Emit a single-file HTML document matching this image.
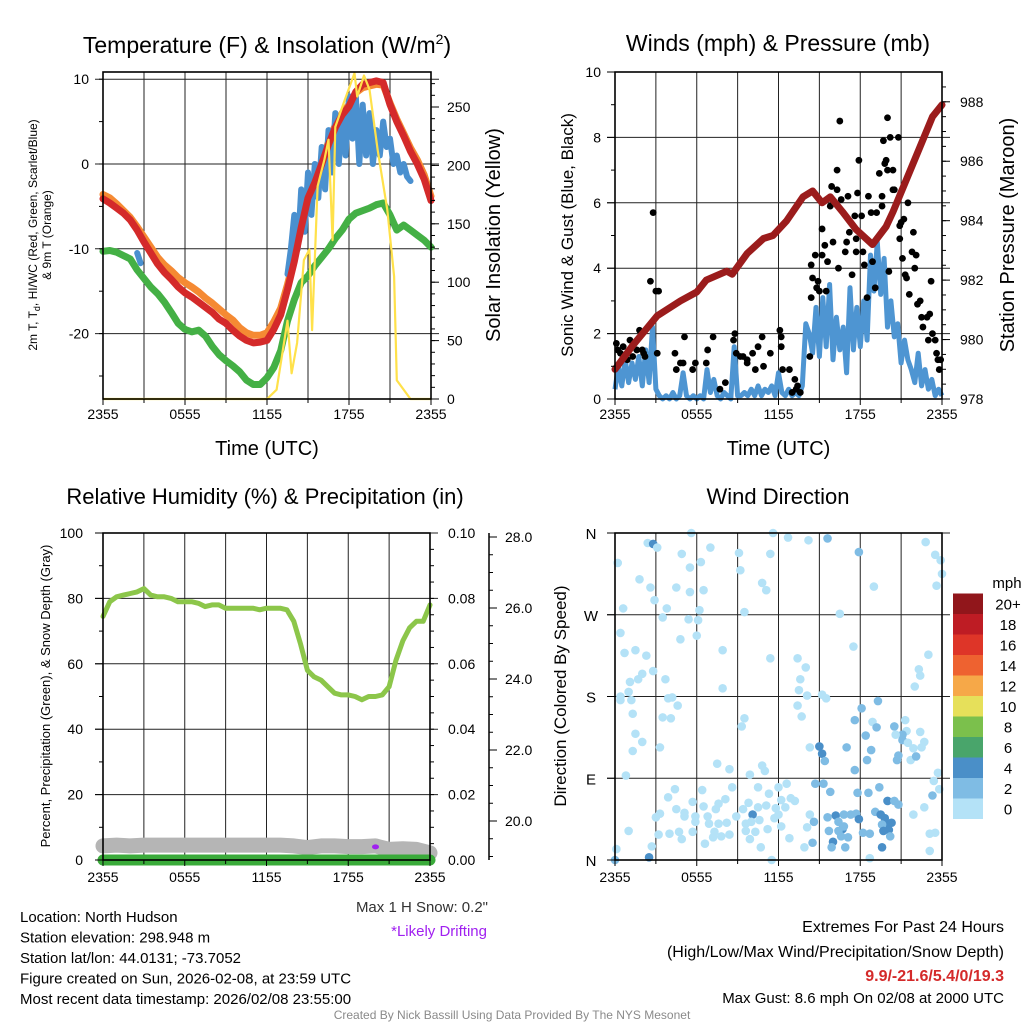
<!DOCTYPE html>
<html><head><meta charset="utf-8"><style>
html,body{margin:0;padding:0;background:#fff;}
svg{display:block;font-family:"Liberation Sans",sans-serif;}
</style></head><body>
<svg id="c" width="1024" height="1024" viewBox="0 0 1024 1024"></svg>
<script>
// ---------- DATA ----------
const halfHours = Array.from({length:49},(_,i)=>i*0.5);
const tempRed = [-4.1,-4.6,-5.2,-5.8,-6.6,-7.8,-9.2,-10.5,-11.8,-12.8,-13.6,-14.5,-15.2,-15.7,-16.3,-16.9,-17.5,-18.3,-18.8,-19.6,-20.3,-20.8,-21.1,-21.0,-20.8,-19.5,-17.8,-14.8,-11.5,-7.5,-4.0,-2.2,0.0,2.3,4.3,5.8,6.8,8.5,9.4,9.6,9.8,9.6,7.0,5.0,3.3,1.5,0.0,-1.8,-4.3];
const temp9m = [-3.6,-4.0,-4.7,-5.5,-6.3,-7.4,-8.6,-9.8,-11.0,-11.9,-12.6,-13.4,-14.0,-14.5,-15.1,-15.8,-16.4,-17.1,-17.8,-18.4,-19.3,-19.9,-20.2,-20.2,-19.9,-18.6,-17.0,-14.2,-11.1,-7.2,-3.8,-1.9,0.3,2.6,4.6,6.0,7.0,8.4,9.0,9.2,9.4,9.3,7.2,5.3,3.6,1.9,0.5,-1.3,-3.8];
const dewGreen = [-10.3,-10.2,-10.4,-10.8,-11.2,-12.5,-13.5,-14.5,-15.3,-16.3,-17.5,-18.8,-19.5,-19.8,-19.6,-20.3,-21.5,-22.5,-23.2,-23.8,-24.5,-25.5,-26.0,-26.0,-25.2,-24.0,-22.0,-18.5,-16.0,-14.0,-13.2,-12.0,-11.0,-10.0,-8.8,-7.8,-6.5,-5.8,-5.5,-5.2,-4.8,-4.6,-6.0,-7.8,-7.2,-7.8,-8.4,-9.0,-9.8];
const chillHours = [2.5,2.75,null,13.5,13.75,14,14.25,14.5,14.75,15,15.25,15.5,15.75,16,16.25,16.5,16.75,17,17.25,17.5,17.75,18,18.25,18.5,18.75,19,19.25,19.5,19.75,20,20.25,20.5,20.75,21,21.25,21.5,21.75,22,22.25,22.5];
const chillBlue = [-10.5,-11.7,null,-13,-10,-6,-10,-3,-8,-1,-6,0,-4,2,-3,4,-1,6,0,6,1,8,3,8,0,7,1,6,0,4,1,5,2,3,0,1,-1,0,-1.5,-2];
const solarHours = [0,12,12.7,13.5,13.8,14.2,14.7,15.1,15.3,15.7,16.2,16.5,16.8,17.0,17.6,18.4,18.6,19.1,19.5,20.1,20.8,21.3,21.5,22.5,24];
const solarVals = [0,0,8,67,22,48,119,128,59,182,205,222,136,233,253,279,259,277,265,213,162,105,16,0,0];
const pressHours = [0,1.3,3.1,4.8,6.0,6.7,8.2,8.6,9.7,10.9,11.6,12.6,13.8,14.5,15.2,15.8,16.7,17.7,18.9,19.9,20.4,21.4,22.4,23.3,24];
const pressVals = [979.0,979.8,980.8,981.3,981.6,982.0,982.3,982.2,982.9,983.4,983.5,984.0,984.8,985.0,984.6,984.8,984.3,983.7,983.2,983.8,984.3,985.4,986.5,987.5,987.9];
const sonicWind = [0.3,1.0,0.4,1.2,0.5,1.1,0.6,1.3,0.4,1.5,0.5,2.2,0.3,
 0.1,0,0.1,0,0.2,0,0.1,0.8,0.1,0,0.1,0,0.1,0,0.9,0.2,0.6,0.1,0,0.2,0.1,0,1.6,0.1,0.1,0.2,
 0.1,0.3,0.1,0.4,0.1,0.3,0.2,0.4,0.1,0.8,0.2,0.1,0.3,0.1,0.2,0.1,0.4,2.3,
 2.0,1.4,2.8,1.3,3.1,1.6,3.5,1.2,2.5,1.5,2.2,0.8,3.4,1.5,2.8,1.6,3.0,1.8,4.4,3.3,4.8,3.2,4.3,2.2,3.0,1.9,2.3,1.1,1.8,1.2,0.9,0.5,1.4,0.4,0.9,0.3,0.6,0.1,0.3,0.1];
const gustHours = [0.1,0.2,0.4,0.6,0.9,1.1,1.3,1.6,1.8,2.0,2.1,2.2,2.6,2.8,3.0,3.1,3.2,4.4,4.5,4.8,5.0,5.1,5.7,5.9,6.7,6.8,7.2,7.7,8.1,8.7,8.8,8.9,9.2,9.4,9.7,9.7,10.1,10.3,10.5,10.8,10.9,11.4,12.1,12.2,12.2,12.3,12.8,13.2,13.3,13.4,13.0,13.6,14.3,14.4,14.4,14.5,14.7,14.8,14.9,15.0,15.2,15.2,15.4,15.5,15.6,15.8,15.9,16.0,16.3,16.3,16.4,16.5,16.6,16.9,17.0,17.1,17.2,17.4,17.6,17.7,17.7,17.8,17.9,18.1,18.2,18.3,18.5,18.6,18.8,18.9,19.1,19.2,19.4,19.6,19.6,19.7,19.8,19.9,20.0,20.0,20.1,20.2,20.4,20.4,20.5,20.8,20.9,20.9,21.0,21.1,21.2,21.3,21.4,21.5,21.6,21.8,21.9,22.0,22.1,22.2,22.4,22.5,22.6,22.9,23.1,23.0,23.2,23.3,23.5,23.6,23.7,23.8,23.9];
const gustVals = [1.7,1.5,1.4,1.6,1.2,1.8,1.3,1.5,2.1,1.5,1.4,1.3,3.6,5.7,3.3,1.4,3.3,1.4,0.9,1.1,1.1,1.9,0.9,1.1,1.1,1.5,1.9,0.3,0.5,1.8,2.0,1.4,1.3,1.3,1.2,1.1,1.4,0.9,1.6,1.9,1.0,1.4,2.1,1.9,1.6,0.9,0.9,0.6,0.3,0.4,0.2,0.2,1.3,3.1,4.1,3.7,4.4,3.4,3.6,3.3,4.4,5.2,4.7,3.3,4.2,5.9,6.5,4.8,7.0,6.4,4.0,8.5,6.1,4.5,4.8,6.2,5.1,3.8,5.6,4.9,4.5,6.3,7.3,5.6,4.5,4.1,3.1,6.2,5.7,4.2,3.4,5.7,6.9,6.2,5.9,7.9,7.2,7.3,7.0,8.6,3.9,8.0,6.4,7.0,6.4,8.0,5.3,4.9,5.4,4.3,5.5,3.8,3.7,6.0,3.2,4.5,5.1,4.0,4.4,2.9,3.0,2.5,2.2,2.5,2.6,1.8,3.6,2.0,1.8,1.4,1.2,0.9,1.2];
const rhVals = [74.5,79,80.5,81,81.5,82,83,81,80.5,80.5,80,79,79,79,78.5,77.5,78,78,77,77,77,77,77,76.5,77,77,77,76.5,73,66,58,56,55,53,51,50.5,50.5,50,49,50,50,50.5,53,61,67,71,73,73,78];
const snowHours = Array.from({length:25},(_,i)=>i);
const snowDepth = [19.3,19.32,19.3,19.32,19.32,19.32,19.32,19.32,19.32,19.32,19.32,19.32,19.32,19.32,19.3,19.25,19.3,19.3,19.28,19.28,19.3,19.2,19.22,19.2,19.1];
const precipVals = [0,0,0,0,0,0,0,0,0,0,0,0,0,0,0,0,0,0,0,0,0,0,0,0,0];
const drift = [20.0, 19.3];
const dirHours = [0.2,2.4,2.8,3.1,5.6,11.6,12.7,14.2,15.6,17.9,22.8,23.5,23.9,24,23.6,4.9,6.3,7.0,5.5,9.1,9.2,11.4,10.8,11.1,1.8,2.6,4.5,5.5,6.5,19.0,0.6,2.9,3.8,3.5,5.4,6.2,6.1,9.5,16.5,0.4,6.0,4.8,17.5,0.7,1.5,2.3,7.9,11.4,13.4,14.0,23.0,2.8,2.0,1.7,1.1,3.7,22.3,22.4,22.0,7.9,13.6,13.5,14.1,15.2,15.5,1.0,0.4,0.4,1.2,3.9,4.2,4.6,1.3,3.5,4.1,13.4,13.7,9.5,9.3,19.3,18.1,17.6,18.9,19.2,20.5,21.3,21.4,21.1,20.6,21.1,22.4,22.7,21.5,21.9,22.5,1.5,2.0,1.3,3.3,18.4,15.0,15.2,14.3,17.0,18.8,15.4,18.5,20.8,20.7,21.7,22.1,17.6,7.5,8.4,9.9,10.8,11.0,0.8,23.7,23.4,23.8,23.3,14.7,15.3,15.8,19.4,17.8,18.6,20.0,20.5,20.8,21.9,22.7,4.4,3.9,6.4,8.6,10.5,11.3,12.0,12.6,12.9,13.2,12.2,5.7,6.5,7.4,7.6,8.1,9.4,9.8,10.5,11.1,11.8,12.5,4.5,5.1,5.1,3.3,3.0,5.9,5.9,6.8,6.9,7.6,8.2,8.9,10.1,10.0,9.6,10.6,11.7,12.0,12.2,14.3,14.6,14.1,16.2,15.6,16.4,16.8,17.3,17.7,17.9,16.7,16.6,16.8,15.7,16.4,16.0,15.9,16.9,17.1,18.2,18.7,19.1,19.5,19.8,19.9,20.3,19.6,20.1,19.7,20.2,19.6,1.0,3.2,4.0,4.7,5.7,4.9,6.6,7.3,7.2,7.8,8.4,9.6,10.3,9.9,11.2,12.8,14.5,13.9,10.7,23.1,23.5,23.1,0.1,2.7,2.5,0,11.5,18.7];
const dirDegs = [327,349,348,344,360,360,355,352,354,339,350,336,330,315,302,337,328,344,322,338,319,337,305,297,309,300,300,295,297,301,277,286,277,267,265,275,264,273,271,250,247,243,235,228,231,225,231,222,222,212,226,208,205,199,196,199,210,203,191,189,199,187,181,182,178,185,180,176,176,178,179,170,161,157,156,170,158,156,147,175,167,154,152,146,147,154,142,138,138,132,141,130,129,123,124,139,130,120,124,137,125,117,124,124,121,109,110,115,110,110,114,99,106,100,94,104,98,93,96,87,78,71,84,84,75,80,74,74,65,65,61,50,58,78,69,77,80,80,73,80,84,68,65,66,64,59,56,62,67,56,63,58,60,57,58,56,52,48,51,47,48,42,48,40,40,41,48,50,42,40,44,46,50,37,50,42,36,49,47,42,50,50,51,45,34,26,37,32,32,20,14,14,25,30,29,53,50,46,40,41,39,33,32,26,14,32,28,29,31,31,23,18,31,25,26,28,32,31,23,34,24,19,14,14,29,30,10,12,15,3,0,0,2];
const dirSpeed = [0,0,4,0,0,0,0,0,2,2,0,0,0,0,0,0,0,0,0,0,0,0,0,0,0,0,0,0,0,0,0,0,0,0,0,0,0,0,0,0,0,0,0,0,0,0,0,0,0,0,0,0,0,0,0,0,0,0,0,0,0,0,0,0,0,0,0,0,0,0,0,0,0,0,0,0,0,0,0,2,2,2,0,2,2,0,0,2,0,2,0,0,0,0,0,0,0,0,0,2,4,4,0,2,2,2,2,2,2,0,2,2,0,0,0,0,0,0,0,0,0,2,2,2,2,2,2,2,4,2,2,0,0,0,0,0,0,0,0,0,0,0,0,0,0,0,0,0,0,0,0,0,0,0,0,0,0,0,0,0,0,0,0,0,0,0,0,4,0,0,0,0,0,0,0,2,0,4,2,2,2,2,2,4,4,2,2,2,2,4,2,2,2,2,2,2,4,4,4,4,2,4,4,2,4,0,0,0,0,0,0,0,0,0,0,0,0,0,0,0,0,2,0,0,0,0,0,0,0,4,2,0,0,0];
const timeTicks = ["2355","0555","1155","1755","2355"];

// ---------- HELPERS ----------
const NS="http://www.w3.org/2000/svg";
const svg=document.getElementById('c');
function el(tag,attrs,parent){const e=document.createElementNS(NS,tag);for(const k in attrs)e.setAttribute(k,attrs[k]);(parent||svg).appendChild(e);return e;}
function txt(s,x,y,size,anchor,extra){const t=el('text',Object.assign({x:x,y:y,'font-size':size,'text-anchor':anchor||'middle',fill:'#000'},extra||{}));t.textContent=s;return t;}
function pathFrom(xs,ys){let d='',pen=false;for(let i=0;i<xs.length;i++){if(xs[i]==null||ys[i]==null){pen=false;continue;}d+=(pen?'L':'M')+xs[i].toFixed(1)+' '+ys[i].toFixed(1);pen=true;}return d;}

function makePanel(name,x0,x1,y0,y1){
  const g=el('g',{});
  
  
  return {g,x0,x1,y0,y1,xs:h=>x0+h*(x1-x0)/24};
}
function grid(P,yTicks,yf){
  for(let k=1;k<8;k++){const x=P.xs(k*3);const l=el('line',{x1:x,x2:x,y1:P.y0,y2:P.y1,stroke:'#222','stroke-width':1},P.g);
    }
  yTicks.forEach(v=>{const y=yf(v);const l=el('line',{x1:P.x0-8,x2:P.x1+8,y1:y,y2:y,stroke:'#222','stroke-width':1},P.g);
    });
}
function frame(P){const r=el('rect',{x:P.x0,y:P.y0,width:P.x1-P.x0,height:P.y1-P.y0,fill:'none',stroke:'#000','stroke-width':1.6},P.g);
  }
function timeAxis(P,ty,showTitle){
  timeTicks.forEach((s,i)=>{const x=P.xs(i*6);el('line',{x1:x,x2:x,y1:P.y1,y2:P.y1+6,stroke:'#000'},P.g);
    const t=txt(s,x,ty,14);});
  for(let k=1;k<8;k+=2){const x=P.xs(k*3);el('line',{x1:x,x2:x,y1:P.y1,y2:P.y1+4,stroke:'#000'},P.g);}
  if(showTitle){const t=txt('Time (UTC)',(P.x0+P.x1)/2,ty+36,20);}
}
function rotText(s,x,y,size,name){const t=txt(s,x,y,size,'middle',{transform:`rotate(-90 ${x} ${y})`});return t;}

// ---------- PANEL 1: Temperature ----------
(function(){
  const P=makePanel('temperature-panel',103,431,72,399);
  const yT=v=>164-v*8.48, yS=v=>399-v*1.168;
  grid(P,[10,0,-10,-20],yT);
  const xs=halfHours.map(P.xs);
  let p=el('path',{d:pathFrom(xs,temp9m.map(yT)),fill:'none',stroke:'#f58a33','stroke-width':7,'stroke-linejoin':'round','stroke-linecap':'round'},P.g);
  
  p=el('path',{d:pathFrom(xs,dewGreen.map(yT)),fill:'none',stroke:'#44b045','stroke-width':7,'stroke-linejoin':'round','stroke-linecap':'round'},P.g);
  
  p=el('path',{d:pathFrom(chillHours.map(h=>h==null?null:P.xs(h)),chillBlue.map(v=>v==null?null:yT(v))),fill:'none',stroke:'#4a90cf','stroke-width':6,'stroke-linejoin':'round','stroke-linecap':'round'},P.g);
  
  p=el('path',{d:pathFrom(xs,tempRed.map(yT)),fill:'none',stroke:'#d42a2a','stroke-width':7,'stroke-linejoin':'round','stroke-linecap':'round'},P.g);
  
  p=el('path',{d:pathFrom(solarHours.map(P.xs),solarVals.map(yS)),fill:'none',stroke:'#ffe14a','stroke-width':2.2,'stroke-linejoin':'round'},P.g);
  
  frame(P);
  [10,0,-10,-20].forEach(v=>{const t=txt(String(v),P.x0-14,yT(v)+5,14,'end');});
  for(let v=-25;v<=10;v+=5){el('line',{x1:P.x0-4,x2:P.x0,y1:yT(v),y2:yT(v),stroke:'#000'},P.g);}
  [0,50,100,150,200,250].forEach(v=>{el('line',{x1:P.x1,x2:P.x1+8,y1:yS(v),y2:yS(v),stroke:'#000'},P.g);
    const t=txt(String(v),P.x1+16,yS(v)+5,14,'start');});
  for(let v=10;v<280;v+=10){el('line',{x1:P.x1,x2:P.x1+4,y1:yS(v),y2:yS(v),stroke:'#000'},P.g);}
  timeAxis(P,419,true);
  const title=el('text',{x:267,y:53,'font-size':23,'text-anchor':'middle'});
  title.innerHTML='Temperature (F) &amp; Insolation (W/m<tspan dy="-9" font-size="14">2</tspan><tspan dy="9">)</tspan>';
  
  const a=el('text',{x:37,y:235,'font-size':12,'text-anchor':'middle',transform:'rotate(-90 37 235)'});
  a.innerHTML='2m T, T<tspan dy="3" font-size="9">d</tspan><tspan dy="-3">, HI/WC (Red, Green, Scarlet/Blue)</tspan>';
  
  rotText('& 9m T (Orange)',51,235,12,'temperature-y-axis-title-line2');
  rotText('Solar Insolation (Yellow)',500,235,20,'solar-y-axis-title');
})();

// ---------- PANEL 2: Winds ----------
(function(){
  const P=makePanel('winds-panel',615,942,72,399);
  const yW=v=>399-v*32.7, yP=v=>399-(v-978)*29.72;
  grid(P,[2,4,6,8],yW);
  const qh=sonicWind.map((_,i)=>P.xs(i*0.25));
  let p=el('path',{d:pathFrom(qh,sonicWind.map(yW)),fill:'none',stroke:'#4e95d2','stroke-width':5,'stroke-linejoin':'round'},P.g);
  
  gustHours.forEach((h,i)=>{const c=el('circle',{cx:P.xs(h),cy:yW(gustVals[i]),r:3.4,fill:'#000'},P.g);
    });
  p=el('path',{d:pathFrom(pressHours.map(P.xs),pressVals.map(yP)),fill:'none',stroke:'#9b1c1c','stroke-width':7,'stroke-linejoin':'round','stroke-linecap':'round'},P.g);
  
  frame(P);
  [0,2,4,6,8,10].forEach(v=>{el('line',{x1:P.x0-8,x2:P.x0,y1:yW(v),y2:yW(v),stroke:'#000'},P.g);
    const t=txt(String(v),P.x0-14,yW(v)+5,14,'end');});
  for(let v=1;v<10;v+=2)el('line',{x1:P.x0-4,x2:P.x0,y1:yW(v),y2:yW(v),stroke:'#000'},P.g);
  [978,980,982,984,986,988].forEach(v=>{el('line',{x1:P.x1,x2:P.x1+8,y1:yP(v),y2:yP(v),stroke:'#000'},P.g);
    const t=txt(String(v),P.x1+18,yP(v)+5,14,'start');});
  for(let v=978.5;v<989;v+=0.5)el('line',{x1:P.x1,x2:P.x1+4,y1:yP(v),y2:yP(v),stroke:'#000'},P.g);
  timeAxis(P,419,true);
  let t=txt('Winds (mph) & Pressure (mb)',778,51,23);
  rotText('Sonic Wind & Gust (Blue, Black)',573,235,17,'winds-y-axis-title');
  rotText('Station Pressure (Maroon)',1014,235,20,'pressure-y-axis-title');
})();

// ---------- PANEL 3: RH ----------
(function(){
  const P=makePanel('humidity-panel',103,430,533,860);
  const yR=v=>860-v*3.27, yD=v=>821-(v-20)*35.5;
  grid(P,[20,40,60,80,100],yR);
  let p=el('path',{d:pathFrom(snowHours.map(P.xs),snowDepth.map(yD)),fill:'none',stroke:'#b5b5b5','stroke-width':15,'stroke-linejoin':'round','stroke-linecap':'round'},P.g);
  
  p=el('path',{d:pathFrom(snowHours.map(P.xs),precipVals.map(v=>860-v*3270)),fill:'none',stroke:'#3aab3a','stroke-width':11,'stroke-linecap':'round'},P.g);
  
  const d=el('ellipse',{cx:P.xs(drift[0]),cy:yD(drift[1])+1,rx:3.5,ry:2.5,fill:'#a020f0'},P.g);
  
  p=el('path',{d:pathFrom(halfHours.map(P.xs),rhVals.map(yR)),fill:'none',stroke:'#8cc64a','stroke-width':5,'stroke-linejoin':'round','stroke-linecap':'round'},P.g);
  
  frame(P);
  [0,20,40,60,80,100].forEach(v=>{el('line',{x1:P.x0-8,x2:P.x0,y1:yR(v),y2:yR(v),stroke:'#000'},P.g);
    const t=txt(String(v),P.x0-20,yR(v)+5,14,'end');
    const t2=txt((v/1000).toFixed(2),P.x1+18,yR(v)+5,14,'start');});
  for(let v=10;v<100;v+=20){el('line',{x1:P.x0-4,x2:P.x0,y1:yR(v),y2:yR(v),stroke:'#000'},P.g);}
  for(let v=5;v<100;v+=5){el('line',{x1:P.x1,x2:P.x1+4,y1:yR(v),y2:yR(v),stroke:'#000'},P.g);}
  el('line',{x1:489,x2:489,y1:533,y2:860,stroke:'#000','stroke-width':1.5},P.g);
  [20,22,24,26,28].forEach(v=>{el('line',{x1:489,x2:497,y1:yD(v),y2:yD(v),stroke:'#000'},P.g);
    const t=txt(v.toFixed(1),505,yD(v)+5,14,'start');});
  for(let v=19;v<28.1;v+=0.5)el('line',{x1:489,x2:493,y1:yD(v),y2:yD(v),stroke:'#000'},P.g);
  timeAxis(P,882,false);
  let t=txt('Relative Humidity (%) & Precipitation (in)',265,504,22);
  rotText('Percent, Precipitation (Green), & Snow Depth (Gray)',50,696,13,'humidity-y-axis-title');
})();

// ---------- PANEL 4: Wind Direction ----------
(function(){
  const P=makePanel('wind-direction-panel',615,942,533,860);
  const yD=v=>860-v*327/360;
  grid(P,[90,180,270,360],yD);
  const colors=['#b4e2f7','#7fbce4','#4a8fc8'];
  dirHours.forEach((h,i)=>{const s=dirSpeed[i];const c=el('circle',{cx:P.xs(h),cy:yD(dirDegs[i]),r:4.3,fill:colors[Math.min(2,Math.floor(s/2))]},P.g);
    });
  frame(P);
  [['N',0],['E',90],['S',180],['W',270],['N',360]].forEach(([s,v])=>{el('line',{x1:P.x0-8,x2:P.x0,y1:yD(v),y2:yD(v),stroke:'#000'},P.g);
    const t=txt(s,P.x0-24,yD(v)+6,15,'middle');});
  timeAxis(P,882,false);
  let t=txt('Wind Direction',778,504,22);
  rotText('Direction (Colored By Speed)',566,696,17,'direction-y-axis-title');
  const cbColors=['#b4e2f7','#7fbce4','#4a8fc8','#49a56b','#7bc04c','#e6e05a','#f6a848','#ee6230','#de3528','#be1c24','#91161b'];
  const cbLabels=['0','2','4','6','8','10','12','14','16','18','20+'];
  const g=el('g',{});
  cbColors.forEach((c,i)=>{const y=819-(i+1)*20.5;el('rect',{x:953,y:y,width:30,height:20.5,fill:c},g);
    const tt=txt(cbLabels[i],1008,y+16,15,'middle');g.appendChild(tt);});
  const m=txt('mph',1007,588,15,'middle');
})();

// ---------- TEXT ----------
const infoLines=['Location: North Hudson','Station elevation: 298.948 m','Station lat/lon: 44.0131; -73.7052','Figure created on Sun, 2026-02-08, at 23:59 UTC','Most recent data timestamp: 2026/02/08 23:55:00'];
infoLines.forEach((s,i)=>{const t=txt(s,20,922+i*20.5,15,'start');});
let t=txt('Max 1 H Snow: 0.2"',488,912,15,'end',{fill:'#333'});
t=txt('*Likely Drifting',487,936,15,'end',{fill:'#a020f0'});
t=txt('Extremes For Past 24 Hours',1004,932,16,'end');
t=txt('(High/Low/Max Wind/Precipitation/Snow Depth)',1004,957,16,'end');
t=txt('9.9/-21.6/5.4/0/19.3',1004,981,16,'end',{fill:'#d42a2a','font-weight':'bold'});
t=txt('Max Gust: 8.6 mph On 02/08 at 2000 UTC',1004,1003,15,'end');
t=txt('Created By Nick Bassill Using Data Provided By The NYS Mesonet',512,1019,12,'middle',{fill:'#8a8a8a'});
</script>
</body></html>
